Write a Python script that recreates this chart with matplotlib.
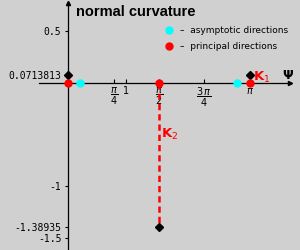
import numpy as np
import matplotlib
matplotlib.use("Agg")
import matplotlib.pyplot as plt
from matplotlib.lines import Line2D

# normal curvature values
k1 = 0.0713813
k2 = -1.38935

# principal directions (psi) and their curvature
principal_psi = [0.0, np.pi / 2, np.pi]
principal_k = [k1, k2, k1]

# asymptotic directions (normal curvature = 0)
asymptotic_psi = [0.21, 2.93]

xtick_vals = [np.pi / 4, 1, np.pi / 2, 3 * np.pi / 4, np.pi]
xtick_labels = [r'$\dfrac{\pi}{4}$', '1', r'$\dfrac{\pi}{2}$', r'$\dfrac{3\,\pi}{4}$', r'$\pi$']
ytick_vals = [0.5, k1, -1, k2, -1.5]
ytick_labels = ['0.5', '0.0713813', '-1', '-1.38935', '-1.5']

bg = '#d0d0d0'
plt.rcParams['mathtext.fontset'] = 'dejavusans'

fig = plt.figure(figsize=(3, 2.5), dpi=100, facecolor=bg)
ax = fig.add_axes([0, 0, 1, 1], facecolor=bg)
ax.set_xlim(-1.1837, 4.0156)
ax.set_ylim(-1.6155, 0.800)

# axes through the origin
for s in ['top', 'right']:
    ax.spines[s].set_visible(False)
ax.spines['left'].set_position(('data', 0))
ax.spines['bottom'].set_position(('data', 0))
ax.spines['left'].set_bounds(-1.62, 0.77)
ax.spines['bottom'].set_bounds(-0.5, 3.84)
ax.spines['left'].set_linewidth(0.9)
ax.spines['bottom'].set_linewidth(0.9)
ax.plot([3.84], [0], marker='>', color='black', ms=3, clip_on=False)
ax.plot([0], [0.77], marker='^', color='black', ms=3, clip_on=False)

ax.set_xticks(xtick_vals)
ax.set_xticklabels(xtick_labels, fontsize=7)
ax.set_yticks(ytick_vals)
ax.set_yticklabels(ytick_labels, fontsize=7, family='DejaVu Sans Mono')
ax.tick_params(axis='x', direction='in', length=3, width=0.8, pad=2)
ax.tick_params(axis='y', direction='out', length=2, width=0.8, pad=3)

# dashed line for K2
ax.plot([principal_psi[1], principal_psi[1]], [0, principal_k[1]],
        color='red', ls=(0, (2.5, 1.6)), lw=1.8, zorder=2)

# curvature values (black)
ax.plot(principal_psi, principal_k, 'D', color='black', ms=4, ls='none', zorder=4, clip_on=False)
# principal directions (red)
ax.plot(principal_psi, [0] * len(principal_psi), 'o', color='red', ms=5, ls='none', zorder=5)
# asymptotic directions (cyan)
ax.plot(asymptotic_psi, [0] * len(asymptotic_psi), 'o', color='#00ffff', ms=5, ls='none', zorder=5)

ax.text(principal_psi[2] + 0.06, principal_k[2] - 0.015, r'$\mathbf{K}_{1}$', color='red',
        fontsize=9.5, va='center', ha='left')
ax.text(principal_psi[1] + 0.04, -0.495, r'$\mathbf{K}_{2}$', color='red',
        fontsize=9.5, va='center', ha='left')
ax.text(3.7, 0.07, 'Ψ', fontsize=9, fontweight='bold', va='center', ha='left')

ax.text(76 / 300, 1 - 12 / 250, 'normal curvature', transform=ax.transAxes,
        fontsize=10.5, fontweight='bold', family='Liberation Sans', va='center', ha='left')

handles = [Line2D([], [], marker='o', color='#00ffff', ls='none', ms=5),
           Line2D([], [], marker='o', color='red', ls='none', ms=5)]
ax.legend(handles, ['–  asymptotic directions', '–  principal directions'],
          loc='upper left', bbox_to_anchor=(165 / 300, 1 - 26 / 250), frameon=False,
          fontsize=6.5, handlelength=0.8, handletextpad=0.9, labelspacing=0.75,
          borderpad=0, borderaxespad=0)

fig.savefig('out.png', dpi=100, facecolor=bg)
